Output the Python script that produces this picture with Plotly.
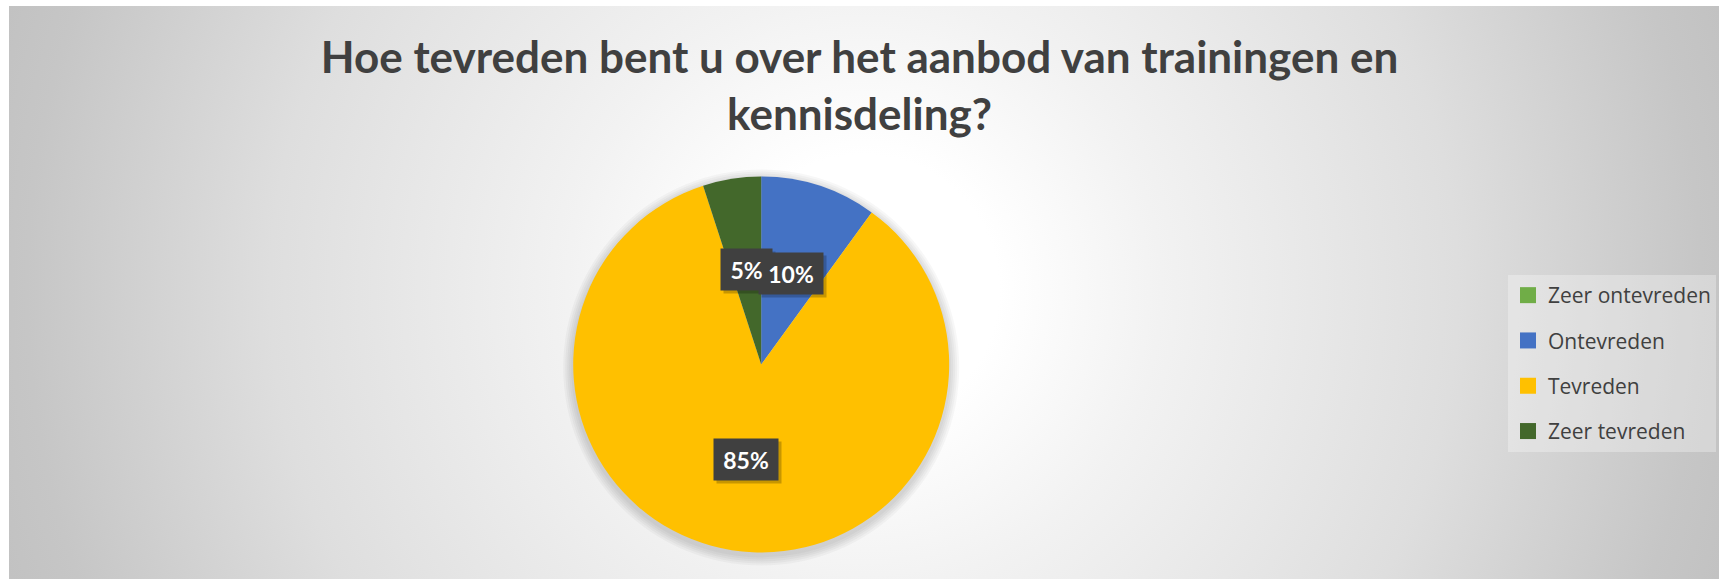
import math
import plotly.graph_objects as go

# ---------------- data ----------------
categories = ["Zeer ontevreden", "Ontevreden", "Tevreden", "Zeer tevreden"]
percentages = [0, 10, 85, 5]
colors = ["#70AD47", "#4472C4", "#FFC000", "#43682B"]
title_text = "Hoe tevreden bent u over het aanbod van trainingen en<br>kennisdeling?"

# ---------------- layout constants ----------------
W, H = 1719, 579
PIE_CX, PIE_CY, PIE_R = 761.2, 364.5, 188.0   # px
BG_X0, BG_Y0 = 9, 6                            # white strip left/top
GRAD_CX, GRAD_CY, GRAD_R = 864, 290, 900
LABEL_RADIUS = 0.51


def pie_domain(cx, cy, r):
    return dict(x=[(cx - r) / W, (cx + r) / W], y=[1 - (cy + r) / H, 1 - (cy - r) / H])


fig = go.Figure()

# background radial gradient (square bounding box -> circular gradient), clipped to plot area
fig.add_trace(go.Scatter(
    x=[GRAD_CX - GRAD_R, GRAD_CX + GRAD_R, GRAD_CX + GRAD_R, GRAD_CX - GRAD_R, GRAD_CX - GRAD_R],
    y=[GRAD_CY - GRAD_R, GRAD_CY - GRAD_R, GRAD_CY + GRAD_R, GRAD_CY + GRAD_R, GRAD_CY - GRAD_R],
    mode="none", fill="toself",
    fillgradient=dict(type="radial", colorscale=[
        [0.0, "#ffffff"], [0.15, "#ffffff"], [0.33, "#f2f2f2"], [0.66, "#dedede"],
        [0.93, "#c6c6c6"], [1.0, "#c2c2c2"]]),
    hoverinfo="skip", showlegend=False,
))

# soft shadow under the pie
for k in [10, 8, 6, 4, 2]:
    fig.add_trace(go.Pie(
        values=[1], labels=["shadow"], marker=dict(colors=["rgba(0,0,0,0.03)"], line=dict(width=0)),
        domain=pie_domain(PIE_CX, PIE_CY + 3, PIE_R + k), textinfo="none", hoverinfo="skip",
        showlegend=False, sort=False,
    ))

# main pie
fig.add_trace(go.Pie(
    labels=categories, values=percentages, sort=False, direction="clockwise", rotation=0,
    marker=dict(colors=colors, line=dict(width=0)), textinfo="none",
    domain=pie_domain(PIE_CX, PIE_CY, PIE_R), showlegend=False,
    hovertemplate="%{label}: %{value}%<extra></extra>",
))

# legend entries
for i, (cat, col) in enumerate(zip(categories, colors)):
    fig.add_trace(go.Scatter(
        x=[None], y=[None], mode="markers", name=cat, legendgroup=f"g{i}",
        marker=dict(symbol="square", size=16, color=col, line=dict(width=0)),
    ))

# data labels (dark boxes) computed from slice mid-angles
total = sum(percentages)
shadows, boxes, texts = [], [], []
cum = 0
for cat, v in zip(categories, percentages):
    if v > 0:
        mid = (cum + v / 2) / total * 2 * math.pi
        px = PIE_CX + LABEL_RADIUS * PIE_R * math.sin(mid)
        py = PIE_CY - LABEL_RADIUS * PIE_R * math.cos(mid)
        txt = f"{v}%"
        w = 13 * len(txt) + 25
        common = dict(x=px / W, y=1 - py / H, xref="paper", yref="paper", showarrow=False,
                      xanchor="center", yanchor="middle", width=w, height=41, borderpad=0)
        shadows.append(dict(text=txt, font=dict(family="Lato", size=23, color="rgba(0,0,0,0)"),
                            bgcolor="rgba(0,0,0,0.22)", xshift=3, yshift=-3, **common))
        boxes.append(dict(text=txt, font=dict(family="Lato", size=23, color="rgba(0,0,0,0)"),
                          bgcolor="#404040", **common))
        texts.append(dict(text=f"<b>{txt}</b>", font=dict(family="Lato", size=23, color="#ffffff"),
                          bgcolor="rgba(0,0,0,0)", **common))
    cum += v

fig.update_layout(
    width=W, height=H,
    margin=dict(l=0, r=0, t=0, b=0),
    paper_bgcolor="#ffffff", plot_bgcolor="rgba(0,0,0,0)",
    xaxis=dict(domain=[BG_X0 / W, 1], range=[BG_X0, W], visible=False, fixedrange=True),
    yaxis=dict(domain=[0, 1 - BG_Y0 / H], range=[H, BG_Y0], visible=False, fixedrange=True),
    title=dict(text=f"<b>{title_text}</b>", x=0.5, xanchor="center", xref="container",
               y=1 - 73 / H, yanchor="top", yref="container",
               font=dict(family="Lato", size=44, color="#404040")),
    legend=dict(x=1508 / W, xanchor="left", y=1 - 275 / H, yanchor="top",
                bgcolor="rgba(255,255,255,0.3)", borderwidth=0,
                font=dict(family="Open Sans", size=21, color="#404040"),
                tracegroupgap=15, itemclick=False, itemdoubleclick=False),
    annotations=shadows + boxes + texts,
    showlegend=True,
)

fig.write_html("out.html")
